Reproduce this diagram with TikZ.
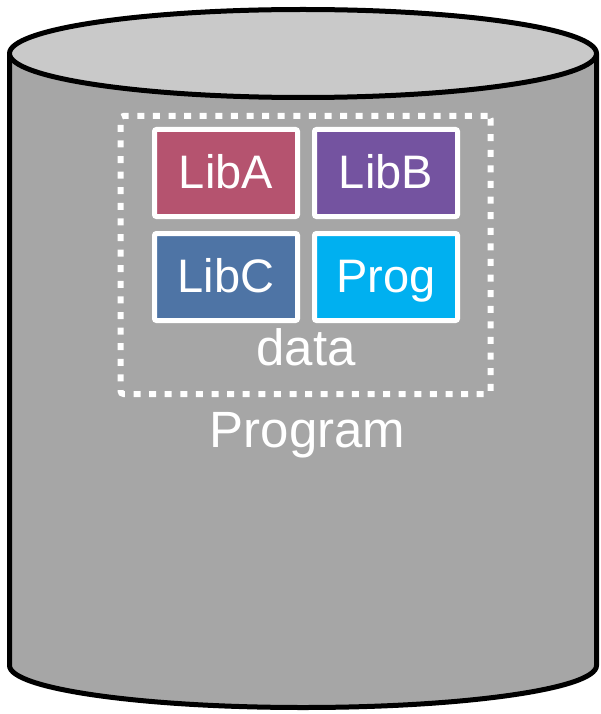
\documentclass[tikz,border=0pt]{standalone}
\usepackage{fontspec}
\setmainfont{Liberation Sans}
\definecolor{sidegray}{HTML}{A6A6A6}
\definecolor{topgray}{HTML}{C9C9C9}
\definecolor{libared}{HTML}{B5536F}
\definecolor{libbviolet}{HTML}{7453A0}
\definecolor{libcblue}{HTML}{4E74A5}
\definecolor{progcyan}{HTML}{00B0F0}
\tikzset{
  x=1pt, y=-1pt,
  shell/.style={line width=5, draw=black, line join=round},
  modbox/.style={rectangle, draw=white, line width=5, rounded corners=2,
    minimum width=143, minimum height=87, inner sep=0,
    text=white, font=\fontsize{47}{47}\selectfont,
    text height=35, text depth=5},
  dataframe/.style={rectangle, draw=white, line width=6, rounded corners=3,
    dash pattern=on 7 off 8.6, minimum width=370, minimum height=278},
  caption/.style={text=white, font=\fontsize{51}{51}\selectfont, anchor=base, inner sep=0}
}
\begin{document}
\begin{tikzpicture}
  \useasboundingbox (0,0) rectangle (601,714);
  % cylinder body
  \fill[sidegray] (9.5,53.5) -- (9.5,665.5) arc[start angle=180, end angle=0, x radius=293.5, y radius=42] -- (596.5,53.5) -- cycle;
  \draw[shell] (9.5,53.5) -- (9.5,665.5) arc[start angle=180, end angle=0, x radius=293.5, y radius=42] -- (596.5,53.5);
  % cylinder lid
  \filldraw[shell, fill=topgray] (303,53.5) ellipse[x radius=293.5, y radius=44];
  % data folder
  \node[dataframe] (data) at (305.5,255) {};
  \node[modbox, fill=libared]    (liba) at (226,173) {LibA};
  \node[modbox, fill=libbviolet] (libb) at (386,173) {LibB};
  \node[modbox, fill=libcblue]   (libc) at (226,277) {LibC};
  \node[modbox, fill=progcyan]   (prog) at (386,277) {Prog};
  \node[caption] (datalabel) at (306,365) {data};
  \node[caption] (proglabel) at (307.5,447) {Program};
\end{tikzpicture}
\end{document}
